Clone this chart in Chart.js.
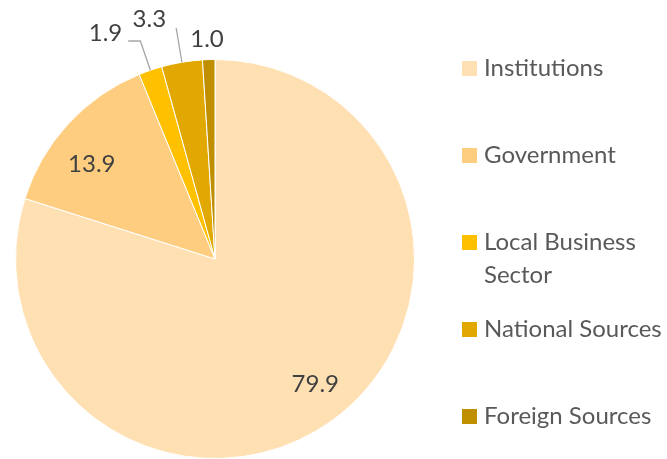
<!DOCTYPE html>
<html>
<head>
<meta charset="utf-8">
<script src="https://cdn.jsdelivr.net/npm/chart.js@4/dist/chart.umd.min.js"></script>
<style>
  html, body { margin: 0; padding: 0; background: #fff; }
  #wrap { width: 667px; height: 459px; position: relative; }
</style>
</head>
<body>
<div id="wrap"><canvas id="c"></canvas></div>
<script>
const categories = ['Institutions', 'Government', ['Local Business', 'Sector'], 'National Sources', 'Foreign Sources'];
const shares = [79.9, 13.9, 1.9, 3.3, 1.0];
const valueLabels = ['79.9', '13.9', '1.9', '3.3', '1.0'];
const sliceColors = ['#FFE0B3', '#FFCD80', '#FFC000', '#E0A800', '#BF8F00'];

// label placement relative to slice (fraction of radius, angle tweak in degrees)
const labelLayout = [
  { frac: 0.806, dAng: -2.4 },
  { frac: 0.78,  dAng: -5.0 },
  { frac: 1.257, dAng: -7.0, leader: { elbowFrac: 1.155, hook: true } },
  { frac: 1.244, dAng: -5.8, leader: { elbowFrac: 1.175, hook: false } },
  { frac: 1.10,  dAng: -0.3 }
];

const FONT = '24px Lato, "Open Sans", sans-serif';

const labelPlugin = {
  id: 'sliceLabels',
  afterDatasetsDraw(chart) {
    const ctx = chart.ctx;
    const meta = chart.getDatasetMeta(0);
    ctx.save();
    ctx.font = FONT;
    ctx.textAlign = 'center';
    ctx.textBaseline = 'middle';
    meta.data.forEach((arc, i) => {
      const p = arc.getProps(['x', 'y', 'startAngle', 'endAngle', 'outerRadius'], true);
      const mid = (p.startAngle + p.endAngle) / 2;
      const L = labelLayout[i];
      const a = mid + L.dAng * Math.PI / 180;
      const tx = p.x + Math.cos(a) * p.outerRadius * L.frac;
      const ty = p.y + Math.sin(a) * p.outerRadius * L.frac;
      if (L.leader) {
        ctx.strokeStyle = '#A6A6A6';
        ctx.lineWidth = 1.3;
        ctx.beginPath();
        const sx = p.x + Math.cos(mid) * p.outerRadius;
        const sy = p.y + Math.sin(mid) * p.outerRadius;
        const ex = p.x + Math.cos(mid) * p.outerRadius * L.leader.elbowFrac;
        const ey = p.y + Math.sin(mid) * p.outerRadius * L.leader.elbowFrac;
        ctx.moveTo(sx, sy);
        ctx.lineTo(ex, ey);
        if (L.leader.hook) {
          const w = ctx.measureText(valueLabels[i]).width;
          ctx.lineTo(tx + w / 2 + 6, ey);
        }
        ctx.stroke();
      }
      ctx.fillStyle = '#404040';
      ctx.fillText(valueLabels[i], tx, ty);
    });
    ctx.restore();
  }
};

const legendPlugin = {
  id: 'sideLegend',
  afterDraw(chart) {
    const ctx = chart.ctx;
    const ds = chart.data.datasets[0];
    const boxX = 462, textX = 484, firstBase = 76, step = 87, lineH = 33, box = 15;
    ctx.save();
    ctx.font = FONT;
    ctx.textAlign = 'left';
    ctx.textBaseline = 'alphabetic';
    chart.data.labels.forEach((lab, i) => {
      const base = firstBase + step * i;
      ctx.fillStyle = ds.backgroundColor[i];
      ctx.fillRect(boxX, base - box, box, box);
      ctx.fillStyle = '#595959';
      const lines = Array.isArray(lab) ? lab : [lab];
      lines.forEach((t, j) => ctx.fillText(t, textX, base + j * lineH));
    });
    ctx.restore();
  }
};

new Chart(document.getElementById('c'), {
  type: 'pie',
  data: {
    labels: categories,
    datasets: [{
      data: shares,
      backgroundColor: sliceColors,
      borderColor: '#ffffff',
      borderWidth: 1
    }]
  },
  options: {
    responsive: true,
    maintainAspectRatio: false,
    animation: false,
    layout: { padding: { left: 15, right: 252, top: 59, bottom: 0 } },
    plugins: {
      legend: { display: false },
      tooltip: { enabled: false }
    }
  },
  plugins: [labelPlugin, legendPlugin]
});
</script>
</body>
</html>
